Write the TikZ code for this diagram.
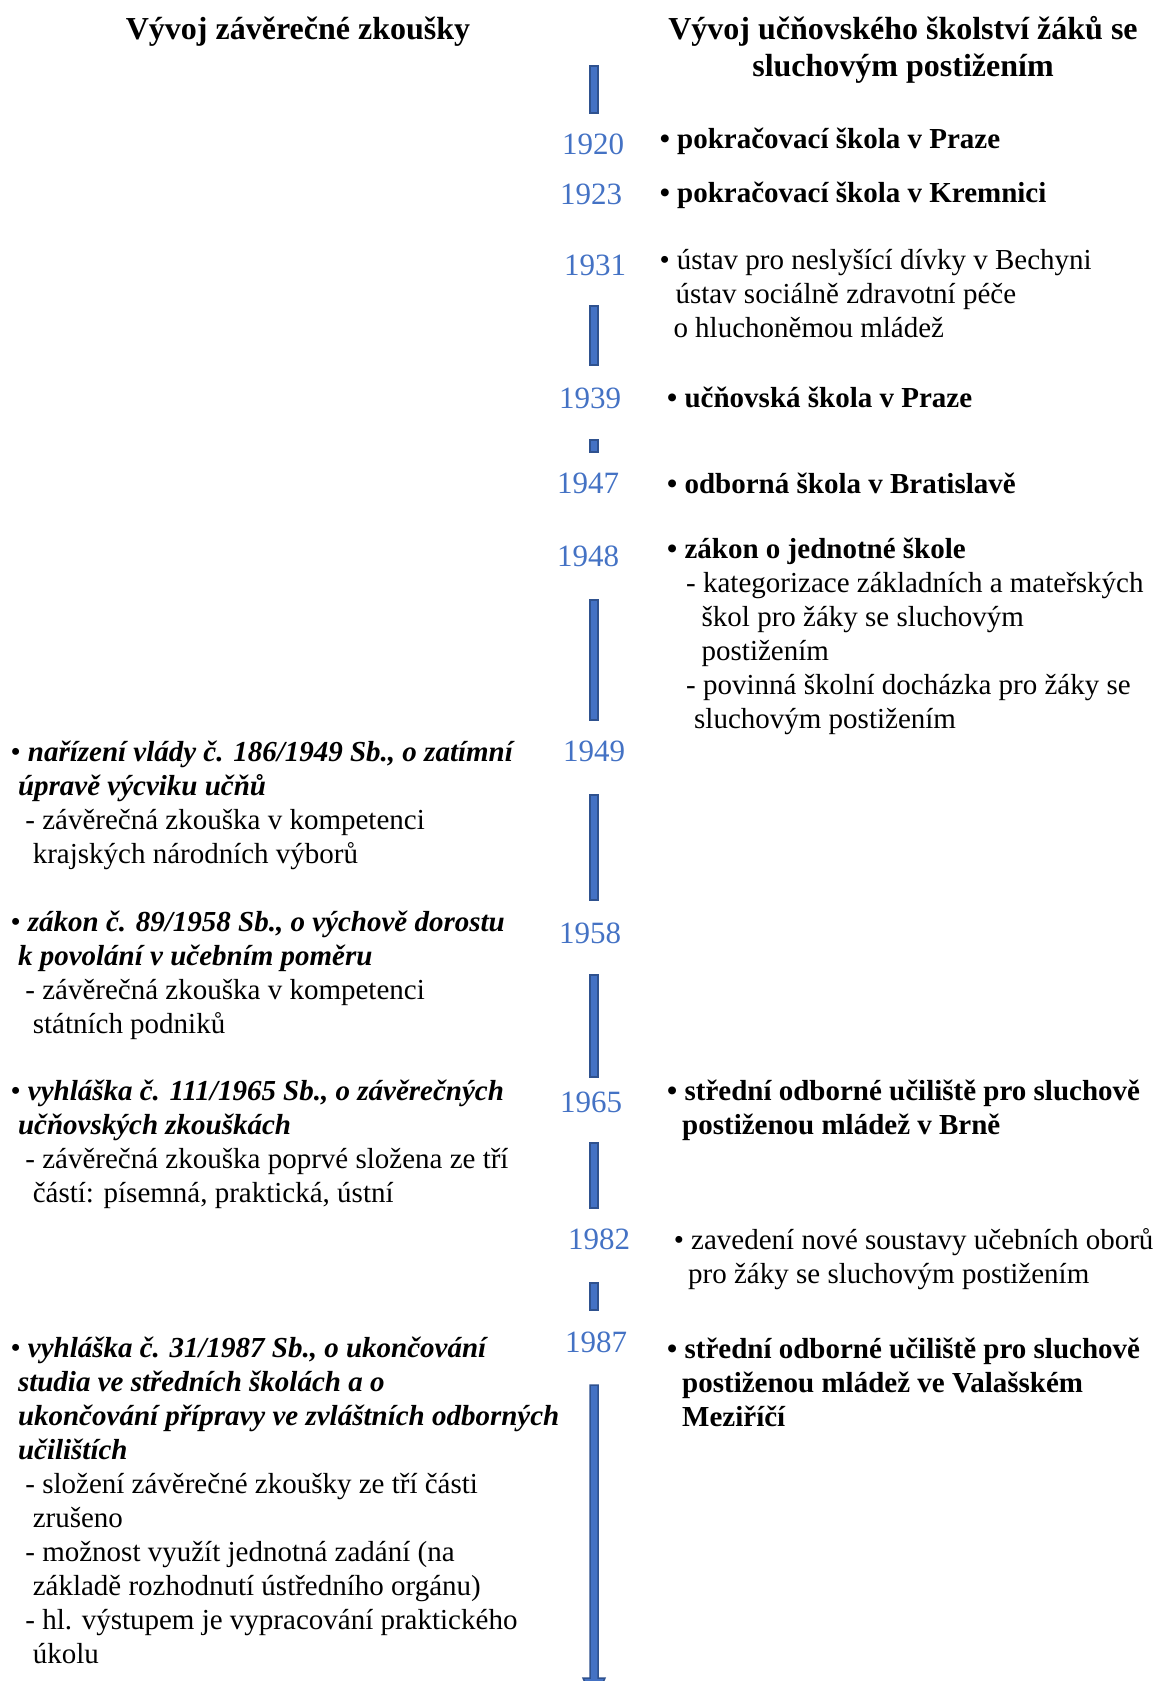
\documentclass[tikz,border=0pt]{standalone}
\usepackage{fontspec}
\setmainfont{Liberation Serif}
\definecolor{yearblue}{HTML}{4472C4}
\definecolor{barfill}{HTML}{4472C4}
\definecolor{barline}{HTML}{2F528F}
\newcommand{\mylines}[1]{\begin{tabular}[t]{@{}l@{}}#1\end{tabular}}
\newcommand{\myind}[1]{\hspace*{#1pt}}
\newcommand{\mybi}[1]{\textbf{\textit{#1}}}
\begin{document}
\begin{tikzpicture}[x=1pt,y=-1pt,
  txt/.style={anchor=base west, inner sep=0pt, font=\fontsize{29}{34}\selectfont},
  yr/.style={anchor=base, inner sep=0pt, font=\fontsize{31}{36}\selectfont, text=yearblue},
  hd/.style={anchor=base, inner sep=0pt, font=\fontsize{32}{36.5}\selectfont\bfseries},
  seg/.style={fill=barfill, draw=barline, line width=1.5pt}]
\useasboundingbox (0,0) rectangle (1160,1681);
\clip (0,0) rectangle (1160,1681);
% timeline bar segments
\foreach \a/\b in {66/113,306/365,440/452,600/720,795/900,975/1077,1143/1208,1283/1310}
  \draw[seg] (590,\a) rectangle (598,\b);
\draw[seg] (590,1385) -- (598,1385) -- (598,1678) -- (605,1678) -- (594,1702) -- (583,1678) -- (590,1678) -- cycle;
% headers
\node[hd] (hleft) at (298,39) {Vývoj závěrečné zkoušky};
\node[hd] (hright) at (903,39.5) {\begin{tabular}[t]{@{}c@{}}Vývoj učňovského školství žáků se\\ sluchovým postižením\end{tabular}};
% years
\node[yr] (y1920) at (593,154) {1920};
\node[yr] (y1923) at (591,204) {1923};
\node[yr] (y1931) at (595,275) {1931};
\node[yr] (y1939) at (590,408) {1939};
\node[yr] (y1947) at (588,493) {1947};
\node[yr] (y1948) at (588,566) {1948};
\node[yr] (y1949) at (594,761) {1949};
\node[yr] (y1958) at (590,943) {1958};
\node[yr] (y1965) at (591,1112) {1965};
\node[yr] (y1982) at (599,1249) {1982};
\node[yr] (y1987) at (596,1352) {1987};
% right column
\node[txt] (r1920) at (659.6,148) {\textbf{• pokračovací škola v Praze}};
\node[txt] (r1923) at (659.6,202) {\textbf{• pokračovací škola v Kremnici}};
\node[txt] (r1931) at (659.3,269) {\mylines{• ústav pro neslyšící dívky v Bechyni\\ \myind{16}ústav sociálně zdravotní péče\\ \myind{14}o hluchoněmou mládež}};
\node[txt] (r1939) at (667,407) {\textbf{• učňovská škola v Praze}};
\node[txt] (r1947) at (667,493) {\textbf{• odborná škola v Bratislavě}};
\node[txt] (r1948) at (667,558) {\mylines{\textbf{• zákon o jednotné škole}\\ \myind{19}- kategorizace základních a mateřských\\ \myind{34.5}škol pro žáky se sluchovým\\ \myind{34.5}postižením\\ \myind{19}- povinná školní docházka pro žáky se\\ \myind{27}sluchovým postižením}};
\node[txt] (r1965) at (667,1100) {\mylines{\textbf{• střední odborné učiliště pro sluchově}\\ \myind{15}\textbf{postiženou mládež v Brně}}};
\node[txt] (r1982) at (673.6,1249) {\mylines{• zavedení nové soustavy učebních oborů\\ \myind{14.4}pro žáky se sluchovým postižením}};
\node[txt] (r1987) at (667,1358.5) {\mylines{\textbf{• střední odborné učiliště pro sluchově}\\ \myind{15}\textbf{postiženou mládež ve Valašském}\\ \myind{15}\textbf{Meziříčí}}};
% left column
\node[txt] (l1949) at (10.3,761) {\mylines{• \mybi{nařízení vlády č. 186/1949 Sb., o zatímní}\\ \myind{7.5}\mybi{úpravě výcviku učňů}\\ \myind{14.9}- závěrečná zkouška v kompetenci\\ \myind{22.3}krajských národních výborů}};
\node[txt] (l1958) at (10.3,931) {\mylines{• \mybi{zákon č. 89/1958 Sb., o výchově dorostu}\\ \myind{7.5}\mybi{k povolání v učebním poměru}\\ \myind{14.9}- závěrečná zkouška v kompetenci\\ \myind{22.3}státních podniků}};
\node[txt] (l1965) at (10.3,1100) {\mylines{• \mybi{vyhláška č. 111/1965 Sb., o závěrečných}\\ \myind{7.5}\mybi{učňovských zkouškách}\\ \myind{14.9}- závěrečná zkouška poprvé složena ze tří\\ \myind{22.3}částí: písemná, praktická, ústní}};
\node[txt] (l1987) at (10.3,1357) {\mylines{• \mybi{vyhláška č. 31/1987 Sb., o ukončování}\\ \myind{7.5}\mybi{studia ve středních školách a o}\\ \myind{7.5}\mybi{ukončování přípravy ve zvláštních odborných}\\ \myind{7.5}\mybi{učilištích}\\ \myind{14.9}- složení závěrečné zkoušky ze tří části\\ \myind{22.3}zrušeno\\ \myind{14.9}- možnost využít jednotná zadání (na\\ \myind{22.3}základě rozhodnutí ústředního orgánu)\\ \myind{14.9}- hl. výstupem je vypracování praktického\\ \myind{22.3}úkolu}};
\end{tikzpicture}
\end{document}
